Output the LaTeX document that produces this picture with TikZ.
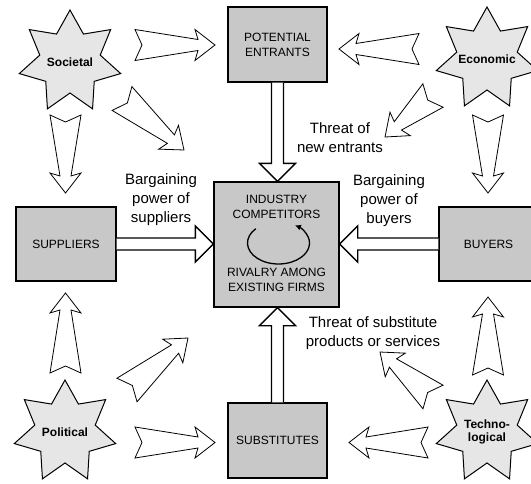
\documentclass[tikz,border=0pt]{standalone}
\usepackage{fontspec}
\setmainfont{Liberation Sans}
\usetikzlibrary{calc,arrows.meta}
\definecolor{boxgray}{HTML}{C8C8C8}
\definecolor{stargray}{HTML}{E6E6E6}
\newcommand\arrowgeom[2]{%
  \path let \p1=(#1), \p2=(#2) in \pgfextra{%
    \pgfmathsetmacro\tmpdx{\x2-\x1}\pgfmathsetmacro\tmpdy{\y2-\y1}%
    \pgfmathsetmacro\tmpang{atan2(\tmpdy,\tmpdx)}%
    \pgfmathsetmacro\tmplen{veclen(\tmpdx,\tmpdy)}%
    \xdef\garrang{\tmpang}\xdef\garrlen{\tmplen}};}
\newcommand\thinarrow[2]{\arrowgeom{#1}{#2}%
  \begin{scope}[shift={(#1)},rotate=\garrang]
    \draw[thinarr] (0,15.5) -- (7,0) -- (0,-15.5) -- ({\garrlen-17},-5.5) -- ({\garrlen-20},-15.5)
      -- (\garrlen,0) -- ({\garrlen-20},15.5) -- ({\garrlen-17},5.5) -- cycle;
  \end{scope}}
\newcommand\bigarrow[2]{\arrowgeom{#1}{#2}%
  \begin{scope}[shift={(#1)},rotate=\garrang]
    \draw[bigarr] (0,6) -- ({\garrlen-18},6) -- ({\garrlen-18},18) -- (\garrlen,0)
      -- ({\garrlen-18},-18) -- ({\garrlen-18},-6) -- (0,-6);
  \end{scope}}
\newcommand\drawstar[1]{%
  \draw[starline] ($(#1)+(-90:52)$)
    \foreach \i in {1,...,13}{ -- ($(#1)+({-90+\i*360/14}:{52-21*mod(\i,2)})$) } -- cycle;}
\begin{document}
\begin{tikzpicture}[x=1pt,y=-1pt,
  box/.style={draw=black, line width=1.3pt, fill=boxgray, inner sep=0pt,
    minimum width=99pt, minimum height=75pt, align=center,
    font=\fontsize{12}{15}\selectfont},
  starline/.style={draw=black, line width=1pt, fill=stargray, line join=miter},
  startxt/.style={inner sep=0pt, align=center,
    font=\fontsize{12}{13.5}\selectfont\bfseries},
  lbl/.style={align=center, inner sep=0pt, font=\fontsize{15}{19}\selectfont},
  boxtxt/.style={align=center, inner sep=0pt, font=\fontsize{12}{14.5}\selectfont},
  thinarr/.style={draw=black, line width=0.8pt, fill=white, line join=miter},
  bigarr/.style={draw=black, line width=1.3pt, fill=white, line join=miter}]
\useasboundingbox (0,0) rectangle (531,483);
\fill[white] (0,0) rectangle (531,483);

% boxes
\node[box] (pe) at (277.5,44.5) {POTENTIAL\\ENTRANTS};
\node[box, minimum width=125pt, minimum height=125pt] (ind) at (276.5,244.5) {};
\node[box, minimum width=100pt, minimum height=74pt] (sup) at (66,244) {SUPPLIERS};
\node[box, minimum width=99pt, minimum height=74pt] (buy) at (488.5,244) {BUYERS};
\node[box] (sub) at (277.5,440.5) {SUBSTITUTES};

\node[boxtxt] (indtop) at (276.5,207) {INDUSTRY\\COMPETITORS};
\node[boxtxt] (indbot) at (276.5,280) {RIVALRY AMONG\\EXISTING FIRMS};
\coordinate (rc) at (278.5,243);
\draw[line width=1.3pt, -{Latex[length=6pt,width=6pt]}]
  (rc) ++(-137:31 and 21) arc[start angle=-137, end angle=-418, x radius=31, y radius=21];

% stars
\coordinate (socc) at (70,62);
\coordinate (ecoc) at (487,59);
\coordinate (polc) at (65,432);
\coordinate (tecc) at (487,432);
\drawstar{socc}
\drawstar{ecoc}
\drawstar{polc}
\drawstar{tecc}
\node[startxt] (soc) at (socc) {Societal};
\node[startxt] (eco) at (ecoc) {Economic};
\node[startxt] (pol) at (polc) {Political};
\node[startxt] (tec) at (tecc) {Techno-\\logical};

% labels
\node[lbl] (l1) at (340,138) {Threat of\\new entrants};
\node[lbl] (l2) at (161,200) {Bargaining\\power of\\suppliers};
\node[lbl] (l3) at (389,201) {Bargaining\\power of\\buyers};
\node[lbl] (l4) at (373,333) {Threat of substitute\\products or services};

% main arrows
\bigarrow{pe.south}{pe.south |- ind.north}
\bigarrow{sup.east}{sup.east -| ind.west}
\bigarrow{buy.west}{buy.west -| ind.east}
\bigarrow{sub.north}{sub.north |- ind.south}

% influence arrows
\coordinate (s1a) at (135,45);    \coordinate (s1b) at (215,45);
\coordinate (s2a) at (122,98.5);  \coordinate (s2b) at (184,150);
\coordinate (s3a) at (65.5,115);  \coordinate (s3b) at (65.5,193);
\coordinate (e1a) at (419,49);    \coordinate (e1b) at (339,49);
\coordinate (e2a) at (433,95.5);  \coordinate (e2b) at (385,137);
\coordinate (e3a) at (488,115);   \coordinate (e3b) at (488,193);
\coordinate (p1a) at (65.5,373);  \coordinate (p1b) at (65.5,293);
\coordinate (p2a) at (127,390);   \coordinate (p2b) at (188,338);
\coordinate (p3a) at (135,442.5); \coordinate (p3b) at (215,442.5);
\coordinate (t1a) at (488,375);   \coordinate (t1b) at (488,297);
\coordinate (t2a) at (433,397);   \coordinate (t2b) at (380,352);
\coordinate (t3a) at (428,442.5); \coordinate (t3b) at (349,442.5);
\thinarrow{s1a}{s1b}
\thinarrow{s2a}{s2b}
\thinarrow{s3a}{s3b}
\thinarrow{e1a}{e1b}
\thinarrow{e2a}{e2b}
\thinarrow{e3a}{e3b}
\thinarrow{p1a}{p1b}
\thinarrow{p2a}{p2b}
\thinarrow{p3a}{p3b}
\thinarrow{t1a}{t1b}
\thinarrow{t2a}{t2b}
\thinarrow{t3a}{t3b}
\end{tikzpicture}
\end{document}
